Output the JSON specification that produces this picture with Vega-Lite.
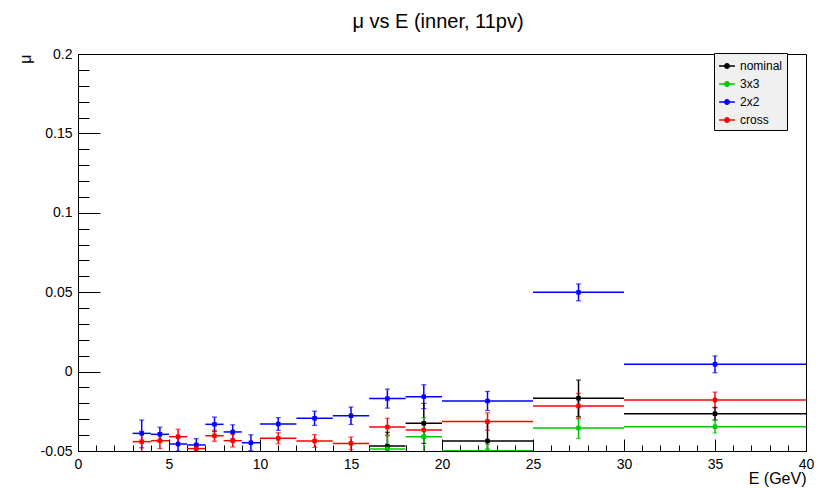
{
  "$schema": "https://vega.github.io/schema/vega-lite/v6.json",
  "width": 728,
  "height": 397,
  "autosize": {"type": "none"},
  "padding": {"left": 78, "top": 54, "right": 16, "bottom": 38},
  "config": {
    "font": "Liberation Sans",
    "view": {"stroke": "black", "strokeWidth": 1},
    "axis": {"domainColor": "black", "tickColor": "black", "labelColor": "black", "titleColor": "black", "grid": false, "labelFont": "Liberation Sans", "titleFont": "Liberation Sans"}
  },
  "title": {"text": "μ vs E (inner, 11pv)", "fontSize": 20, "fontWeight": "normal", "font": "Liberation Sans", "anchor": "middle", "frame": "group", "offset": -1, "baseline": "alphabetic", "dx": -4},
  "data": {
    "values": [
      {"s": "2x2", "x": 3.5, "x0": 3, "x1": 4, "y": -0.0389, "ylo": -0.0480, "yhi": -0.0305},
      {"s": "2x2", "x": 4.5, "x0": 4, "x1": 5, "y": -0.0395, "ylo": -0.0440, "yhi": -0.0350},
      {"s": "2x2", "x": 5.5, "x0": 5, "x1": 6, "y": -0.0456, "ylo": -0.0500, "yhi": -0.0411},
      {"s": "2x2", "x": 6.5, "x0": 6, "x1": 7, "y": -0.0462, "ylo": -0.0502, "yhi": -0.0422},
      {"s": "2x2", "x": 7.5, "x0": 7, "x1": 8, "y": -0.0332, "ylo": -0.0378, "yhi": -0.0286},
      {"s": "2x2", "x": 8.5, "x0": 8, "x1": 9, "y": -0.0380, "ylo": -0.0425, "yhi": -0.0335},
      {"s": "2x2", "x": 9.5, "x0": 9, "x1": 10, "y": -0.0448, "ylo": -0.0498, "yhi": -0.0398},
      {"s": "2x2", "x": 11, "x0": 10, "x1": 12, "y": -0.0330, "ylo": -0.0370, "yhi": -0.0290},
      {"s": "2x2", "x": 13, "x0": 12, "x1": 14, "y": -0.0294, "ylo": -0.0339, "yhi": -0.0249},
      {"s": "2x2", "x": 15, "x0": 14, "x1": 16, "y": -0.0278, "ylo": -0.0333, "yhi": -0.0223},
      {"s": "2x2", "x": 17, "x0": 16, "x1": 18, "y": -0.0170, "ylo": -0.0230, "yhi": -0.0110},
      {"s": "2x2", "x": 19, "x0": 18, "x1": 20, "y": -0.0158, "ylo": -0.0233, "yhi": -0.0083},
      {"s": "2x2", "x": 22.5, "x0": 20, "x1": 25, "y": -0.0185, "ylo": -0.0245, "yhi": -0.0125},
      {"s": "2x2", "x": 27.5, "x0": 25, "x1": 30, "y": 0.0499, "ylo": 0.0446, "yhi": 0.0552},
      {"s": "2x2", "x": 35, "x0": 30, "x1": 40, "y": 0.0046, "ylo": -0.0007, "yhi": 0.0099},
      {"s": "cross", "x": 3.5, "x0": 3, "x1": 4, "y": -0.0441, "ylo": -0.0506, "yhi": -0.0376},
      {"s": "cross", "x": 4.5, "x0": 4, "x1": 5, "y": -0.0435, "ylo": -0.0485, "yhi": -0.0385},
      {"s": "cross", "x": 5.5, "x0": 5, "x1": 6, "y": -0.0410, "ylo": -0.0457, "yhi": -0.0363},
      {"s": "cross", "x": 6.5, "x0": 6, "x1": 7, "y": -0.0485, "ylo": -0.0515, "yhi": -0.0455},
      {"s": "cross", "x": 7.5, "x0": 7, "x1": 8, "y": -0.0404, "ylo": -0.0439, "yhi": -0.0369},
      {"s": "cross", "x": 8.5, "x0": 8, "x1": 9, "y": -0.0435, "ylo": -0.0475, "yhi": -0.0395},
      {"s": "cross", "x": 11, "x0": 10, "x1": 12, "y": -0.0420, "ylo": -0.0455, "yhi": -0.0385},
      {"s": "cross", "x": 13, "x0": 12, "x1": 14, "y": -0.0437, "ylo": -0.0477, "yhi": -0.0397},
      {"s": "cross", "x": 15, "x0": 14, "x1": 16, "y": -0.0452, "ylo": -0.0492, "yhi": -0.0412},
      {"s": "cross", "x": 17, "x0": 16, "x1": 18, "y": -0.0349, "ylo": -0.0404, "yhi": -0.0294},
      {"s": "cross", "x": 19, "x0": 18, "x1": 20, "y": -0.0368, "ylo": -0.0403, "yhi": -0.0333},
      {"s": "cross", "x": 22.5, "x0": 20, "x1": 25, "y": -0.0315, "ylo": -0.0370, "yhi": -0.0260},
      {"s": "cross", "x": 27.5, "x0": 25, "x1": 30, "y": -0.0217, "ylo": -0.0297, "yhi": -0.0137},
      {"s": "cross", "x": 35, "x0": 30, "x1": 40, "y": -0.0179, "ylo": -0.0229, "yhi": -0.0129},
      {"s": "nominal", "x": 17, "x0": 16, "x1": 18, "y": -0.0469, "ylo": -0.0556, "yhi": -0.0382},
      {"s": "nominal", "x": 19, "x0": 18, "x1": 20, "y": -0.0326, "ylo": -0.0452, "yhi": -0.0200},
      {"s": "nominal", "x": 22.5, "x0": 20, "x1": 25, "y": -0.0437, "ylo": -0.0557, "yhi": -0.0317},
      {"s": "nominal", "x": 27.5, "x0": 25, "x1": 30, "y": -0.0168, "ylo": -0.0283, "yhi": -0.0053},
      {"s": "nominal", "x": 35, "x0": 30, "x1": 40, "y": -0.0265, "ylo": -0.0305, "yhi": -0.0225},
      {"s": "3x3", "x": 17, "x0": 16, "x1": 18, "y": -0.0487, "ylo": -0.0575, "yhi": -0.0399},
      {"s": "3x3", "x": 19, "x0": 18, "x1": 20, "y": -0.0410, "ylo": -0.0530, "yhi": -0.0290},
      {"s": "3x3", "x": 22.5, "x0": 20, "x1": 25, "y": -0.0498, "ylo": -0.0538, "yhi": -0.0458},
      {"s": "3x3", "x": 27.5, "x0": 25, "x1": 30, "y": -0.0355, "ylo": -0.0421, "yhi": -0.0289},
      {"s": "3x3", "x": 35, "x0": 30, "x1": 40, "y": -0.0347, "ylo": -0.0387, "yhi": -0.0307}
    ]
  },
  "resolve": {"axis": {"x": "independent", "y": "independent"}},
  "layer": [
    {
      "mark": {"type": "rule", "strokeWidth": 1.5, "clip": true},
      "encoding": {
        "x": {"field": "x0", "type": "quantitative", "scale": {"domain": [0, 40], "nice": false, "zero": false},
          "axis": {"orient": "bottom", "values": [0, 5, 10, 15, 20, 25, 30, 35, 40], "tickSize": -12, "labelPadding": 18, "labelFontSize": 14, "labelFlush": false, "domainWidth": 1, "tickWidth": 1,
            "title": "E (GeV)", "titleFontSize": 16, "titleFontWeight": "normal", "titleAnchor": "end", "titleAlign": "right", "titleX": 728, "titleY": 32, "titleBaseline": "alphabetic"}},
        "x2": {"field": "x1"},
        "y": {"field": "y", "type": "quantitative", "scale": {"domain": [-0.05, 0.2], "nice": false, "zero": false},
          "axis": {"orient": "left", "values": [-0.05, 0, 0.05, 0.1, 0.15, 0.2], "labelExpr": "toString(datum.value)", "tickSize": -22, "labelPadding": 28, "labelFontSize": 14, "labelFlush": false, "domainWidth": 1, "tickWidth": 1,
            "title": "μ", "titleFontSize": 16, "titleFontWeight": "normal", "titleAngle": -90, "titleAlign": "right", "titleAnchor": "end", "titleX": -53, "titleY": 0, "titleBaseline": "middle"}},
        "color": {"field": "s", "type": "nominal", "scale": {"domain": ["nominal", "3x3", "2x2", "cross"], "range": ["#000000", "#00c800", "#0000ff", "#ff0000"]},
          "legend": {"orient": "none", "legendX": 636, "legendY": -1, "title": null, "fillColor": "#f0f0f0", "strokeColor": "black", "padding": 4, "labelFontSize": 12, "labelFont": "Liberation Sans", "labelColor": "black", "labelOffset": 4, "rowPadding": 3,
            "symbolType": "M-1,0H1M-0.28,0a0.28,0.28 0 1,0 0.56,0a0.28,0.28 0 1,0 -0.56,0", "symbolSize": 250,
            "encode": {
              "legend": {"update": {"width": {"value": 83}}},
              "symbols": {"update": {"stroke": {"scale": "color", "field": "value"}, "fill": {"scale": "color", "field": "value"}, "strokeWidth": {"value": 1.5}, "opacity": {"value": 1}, "fillOpacity": {"value": 1}}}}}}
      }
    },
    {
      "mark": {"type": "rule", "strokeWidth": 1.5, "clip": true},
      "encoding": {
        "x": {"field": "x", "type": "quantitative",
          "axis": {"orient": "bottom", "values": [0,1,2,3,4,5,6,7,8,9,10,11,12,13,14,15,16,17,18,19,20,21,22,23,24,25,26,27,28,29,30,31,32,33,34,35,36,37,38,39,40], "tickSize": -6, "labels": false, "domain": false, "title": null, "tickWidth": 1}},
        "y": {"field": "ylo", "type": "quantitative",
          "axis": {"orient": "left", "values": [-0.05,-0.04,-0.03,-0.02,-0.01,0,0.01,0.02,0.03,0.04,0.05,0.06,0.07,0.08,0.09,0.1,0.11,0.12,0.13,0.14,0.15,0.16,0.17,0.18,0.19,0.2], "tickSize": -11, "labels": false, "domain": false, "title": null, "tickWidth": 1}},
        "y2": {"field": "yhi"},
        "color": {"field": "s", "type": "nominal"}
      }
    },
    {
      "mark": {"type": "tick", "orient": "horizontal", "size": 5, "thickness": 1.2, "clip": true},
      "encoding": {
        "x": {"field": "x", "type": "quantitative", "axis": null},
        "y": {"field": "ylo", "type": "quantitative", "axis": null},
        "color": {"field": "s", "type": "nominal"}
      }
    },
    {
      "mark": {"type": "tick", "orient": "horizontal", "size": 5, "thickness": 1.2, "clip": true},
      "encoding": {
        "x": {"field": "x", "type": "quantitative", "axis": null},
        "y": {"field": "yhi", "type": "quantitative", "axis": null},
        "color": {"field": "s", "type": "nominal"}
      }
    },
    {
      "mark": {"type": "point", "filled": true, "shape": "square", "size": 20, "opacity": 1, "clip": true},
      "encoding": {
        "x": {"field": "x", "type": "quantitative", "axis": null},
        "y": {"field": "y", "type": "quantitative", "axis": null},
        "color": {"field": "s", "type": "nominal"}
      }
    }
  ]
}
